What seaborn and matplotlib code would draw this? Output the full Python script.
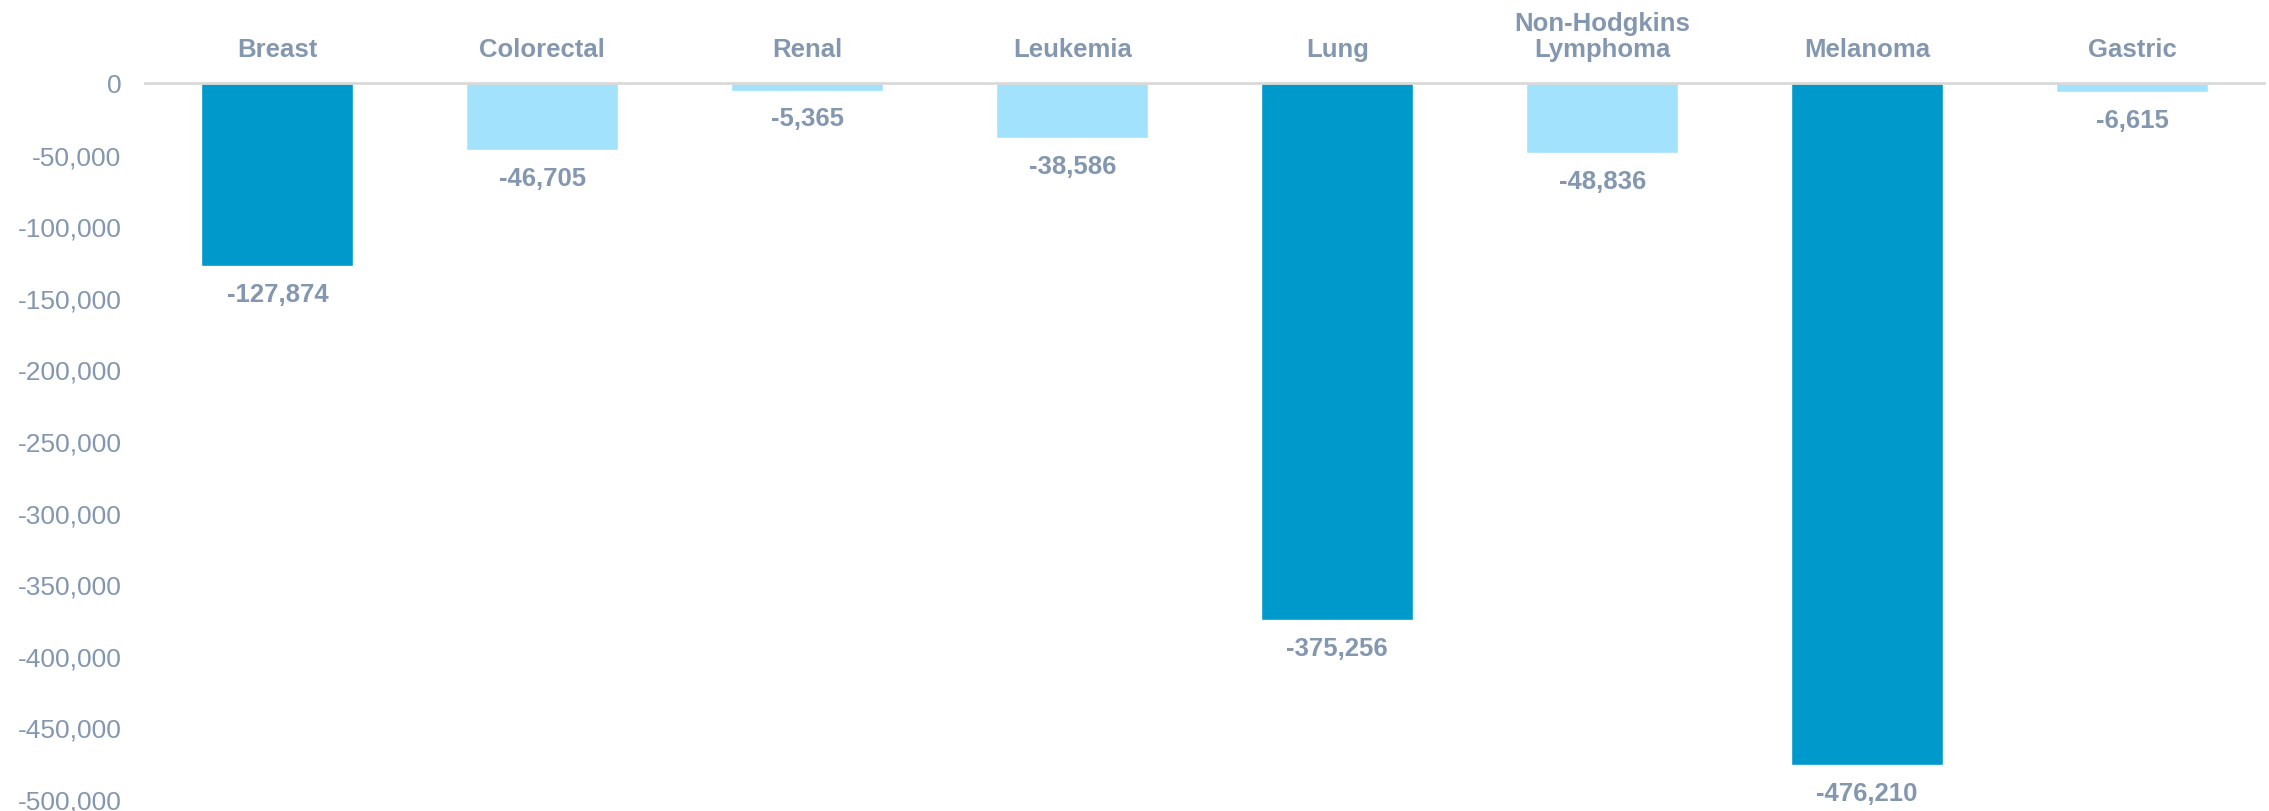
import matplotlib
matplotlib.use("Agg")
import matplotlib.pyplot as plt
import seaborn as sns
import pandas as pd
from matplotlib.ticker import FuncFormatter

categories = ["Breast", "Colorectal", "Renal", "Leukemia", "Lung",
              "Non-Hodgkins\nLymphoma", "Melanoma", "Gastric"]
values = [-127874, -46705, -5365, -38586, -375256, -48836, -476210, -6615]
highlight = [True, False, False, False, True, False, True, False]

DARK = "#0099CC"
LIGHT = "#A3E2FC"
TXT = "#8497B0"

sns.set_theme(style="white")
plt.rcParams["font.family"] = ["Liberation Sans", "DejaVu Sans"]

df = pd.DataFrame({"cat": categories, "val": values})
palette = {c: (DARK if h else LIGHT) for c, h in zip(categories, highlight)}

fig = plt.figure(figsize=(22.69, 8.12), dpi=100)
ax = fig.add_axes([0.0639, 0.0148, 0.998 - 0.0639, 0.8966 - 0.0148])

sns.barplot(data=df, x="cat", y="val", hue="cat", palette=palette,
            legend=False, width=0.574, saturation=1, ax=ax)

ax.set_ylim(-500000, 0)
ax.set_yticks(range(-500000, 1, 50000))
ax.yaxis.set_major_formatter(FuncFormatter(lambda v, p: f"{int(v):,}"))
ax.set_xlabel("")
ax.set_ylabel("")

ax.xaxis.tick_top()
ax.tick_params(axis="x", length=0, pad=15.5, labelsize=18.5, labelcolor=TXT)
ax.tick_params(axis="y", length=0, pad=17, labelsize=19, labelcolor=TXT)
for lab in ax.get_xticklabels():
    lab.set_fontweight("bold")
    lab.set_linespacing(1.12)

for s in ["left", "right", "bottom"]:
    ax.spines[s].set_visible(False)
ax.spines["top"].set_color("#D9D9D9")
ax.spines["top"].set_linewidth(2)

for i, v in enumerate(values):
    ax.annotate(f"{v:,}", xy=(i, v), xytext=(0, -20), textcoords="offset points",
                ha="center", va="center", fontsize=18.5, fontweight="bold", color=TXT)

fig.savefig("out.png", dpi=100, facecolor="white")
